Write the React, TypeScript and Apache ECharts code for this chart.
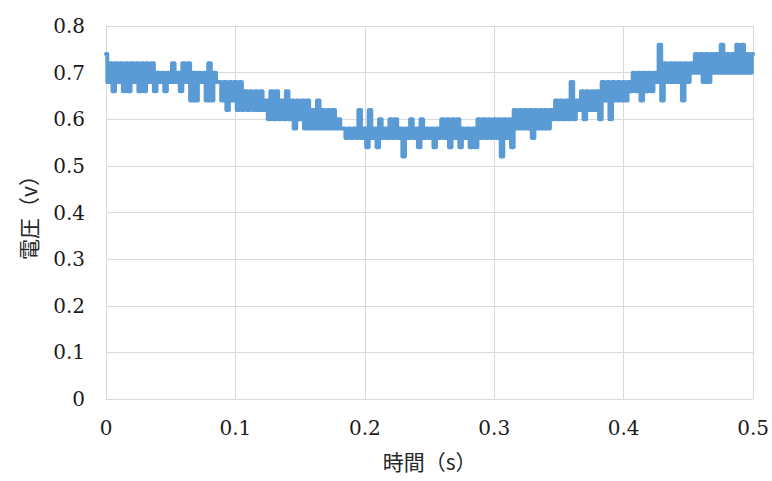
import React, { useEffect, useRef } from "react";
import * as echarts from "echarts";

// Sampling interval of the recorded signal (s)
const SAMPLE_INTERVAL = 0.002;

// Voltage readings in hundredths of a volt, split by 0.1 s spans
const voltsSpan1 = [
  74, 68, 72, 66, 72, 68, 72, 66, 72, 66, 72, 68, 72, 66, 72, 66, 72, 68, 72, 66,
  70, 68, 70, 66, 70, 68, 72, 68, 70, 66, 72, 68, 72, 64, 70, 64, 70, 68, 70, 64,
  72, 64, 70, 68, 68, 64, 68, 62, 68, 64,
];
const voltsSpan2 = [
  68, 62, 68, 62, 66, 62, 66, 62, 66, 62, 66, 62, 64, 60, 66, 60, 66, 60, 64, 60,
  66, 60, 64, 58, 64, 60, 64, 58, 64, 58, 62, 58, 64, 58, 62, 58, 62, 58, 62, 58,
  60, 58, 58, 56, 58, 56, 58, 56, 62, 56,
];
const voltsSpan3 = [
  58, 54, 62, 56, 58, 54, 60, 56, 58, 56, 60, 56, 60, 56, 58, 52, 58, 56, 60, 56,
  58, 54, 60, 56, 58, 56, 58, 54, 58, 56, 60, 56, 60, 54, 60, 56, 60, 54, 58, 56,
  58, 54, 58, 54, 60, 56, 60, 56, 60, 56,
];
const voltsSpan4 = [
  60, 56, 60, 52, 60, 56, 60, 54, 62, 58, 62, 58, 62, 58, 62, 56, 62, 58, 62, 58,
  62, 58, 62, 60, 64, 60, 64, 60, 64, 60, 68, 60, 64, 62, 66, 60, 66, 62, 66, 62,
  66, 60, 68, 64, 68, 60, 68, 64, 68, 64,
];
const voltsSpan5 = [
  68, 64, 68, 66, 70, 66, 70, 64, 70, 66, 70, 66, 70, 68, 76, 64, 72, 68, 72, 68,
  72, 68, 72, 64, 72, 68, 72, 70, 74, 70, 74, 68, 74, 68, 74, 70, 74, 70, 76, 70,
  74, 70, 74, 70, 76, 70, 76, 70, 74, 70, 74,
];

const xTickInterval = 0.1;
const yTickInterval = 0.1;
const xAxisTitle = "時間（s）";
const yAxisTitle = "電圧（v）";

const allVolts = [...voltsSpan1, ...voltsSpan2, ...voltsSpan3, ...voltsSpan4, ...voltsSpan5];
const seriesData = allVolts.map((v, i) => [
  Number((i * SAMPLE_INTERVAL).toFixed(4)),
  v / 100,
]);

const FONT = "'DejaVu Serif', 'Noto Sans CJK JP', serif";
const TITLE_FONT = "'Noto Sans CJK JP', 'DejaVu Serif', serif";

export default function App() {
  const ref = useRef<HTMLDivElement>(null);

  useEffect(() => {
    if (!ref.current) return;
    const chart = echarts.init(ref.current, undefined, { renderer: "svg" });
    chart.setOption({
      animation: false,
      backgroundColor: "#ffffff",
      grid: { left: 106, right: 18, top: 26, bottom: 82, containLabel: false },
      xAxis: {
        type: "value",
        min: 0,
        max: 0.5,
        interval: xTickInterval,
        name: xAxisTitle,
        nameLocation: "middle",
        nameGap: 51,
        nameTextStyle: { fontFamily: TITLE_FONT, fontSize: 21, color: "#262626" },
        axisLine: { show: true, lineStyle: { color: "#d9d9d9", width: 1 } },
        axisTick: { show: false },
        axisLabel: {
          fontFamily: FONT,
          fontSize: 20,
          color: "#1a1a1a",
          margin: 19,
        },
        splitLine: { show: true, lineStyle: { color: "#d9d9d9", width: 1 } },
      },
      yAxis: {
        type: "value",
        min: 0,
        max: 0.8,
        interval: yTickInterval,
        name: yAxisTitle,
        nameLocation: "middle",
        nameGap: 68,
        nameRotate: 90,
        nameTextStyle: { fontFamily: TITLE_FONT, fontSize: 21, color: "#262626" },
        axisLine: { show: true, lineStyle: { color: "#d9d9d9", width: 1 } },
        axisTick: { show: false },
        axisLabel: {
          fontFamily: FONT,
          fontSize: 20,
          color: "#1a1a1a",
          margin: 21,
        },
        splitLine: { show: true, lineStyle: { color: "#d9d9d9", width: 1 } },
      },
      series: [
        {
          type: "line",
          data: seriesData,
          step: "middle",
          showSymbol: false,
          symbol: "none",
          lineStyle: { color: "#5b9bd5", width: 4, cap: "round", join: "round" },
          silent: true,
        },
      ],
    });
    return () => chart.dispose();
  }, []);

  return (
    <div
      ref={ref}
      style={{ position: "absolute", left: 0, top: 0, width: 772, height: 481 }}
    />
  );
}
